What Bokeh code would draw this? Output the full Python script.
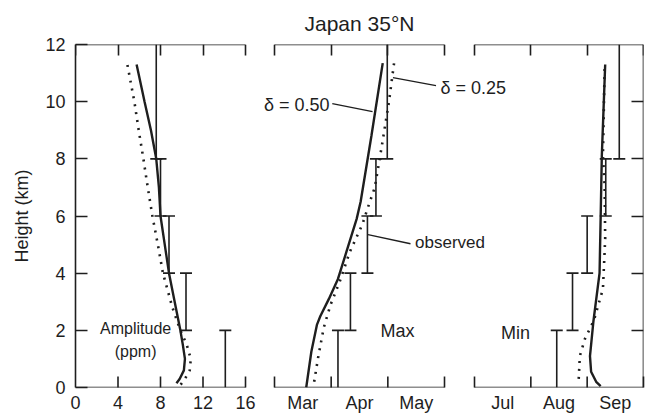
import math
from bokeh.plotting import figure
from bokeh.models import Range1d, LinearAxis, FixedTicker
from bokeh.core.properties import value
from bokeh.embed import file_html
from bokeh.resources import INLINE

# ---------------------------------------------------------------- data
# Observed layers (km): each observed value covers one layer
obs_bottom = [0, 2, 4, 6, 8]
obs_top = [2, 4, 6, 8, 12]

# Amplitude (ppm)
amp_z_050 = [0.15, 0.3, 0.6, 1.0, 1.5, 2.0, 2.8, 4.0, 5.0, 6.0, 7.0, 8.0, 9.0, 10.0, 11.3]
amp_050 = [9.5, 9.8, 10.2, 10.3, 10.1, 9.87, 9.44, 8.8, 8.4, 8.0, 7.85, 7.6, 7.1, 6.5, 5.75]
amp_z_025 = [0.1, 0.3, 0.6, 1.0, 1.5, 2.0, 2.8, 4.0, 4.9, 6.0, 7.0, 8.0, 9.0, 10.0, 11.3]
amp_025 = [9.9, 10.3, 10.75, 10.85, 10.47, 9.87, 9.12, 8.23, 7.8, 7.24, 6.8, 6.39, 5.95, 5.54, 4.88]
amp_obs = [14.1, 10.4, 8.8, 8.0, 7.6]

# Date of the maximum (month number, 3.0 = 1 March)
max_z_050 = [0.0, 1.25, 2.2, 2.5, 3.1, 3.8, 4.75, 5.9, 6.5, 8.8, 11.35]
max_050 = [3.56, 3.65, 3.75, 3.81, 3.96, 4.12, 4.27, 4.45, 4.52, 4.71, 4.91]
max_z_025 = [0.2, 1.05, 2.1, 2.9, 3.7, 4.75, 5.7, 6.25, 7.0, 8.4, 10.0, 11.35]
max_025 = [3.70, 3.77, 3.87, 3.99, 4.15, 4.33, 4.55, 4.64, 4.77, 4.89, 5.02, 5.11]
max_obs = [4.12, 4.34, 4.64, 4.79, 4.99]

# Date of the minimum (month number, 7.0 = 1 July)
min_z_050 = [0.05, 0.2, 0.55, 1.1, 2.3, 4.0, 6.0, 8.1, 11.3]
min_050 = [9.24, 9.16, 9.07, 9.05, 9.11, 9.22, 9.24, 9.26, 9.32]
min_z_025 = [0.3, 1.1, 1.7, 2.35, 3.45, 5.2, 7.05, 8.1, 11.2]
min_025 = [8.85, 8.87, 8.96, 9.12, 9.28, 9.32, 9.31, 9.28, 9.31]
min_obs = [8.46, 8.74, 9.0, 9.33, 9.57]

height_ticks = [0, 2, 4, 6, 8, 10, 12]
amp_ticks = [0, 4, 8, 12, 16]
max_months = ["Mar", "Apr", "May"]
min_months = ["Jul", "Aug", "Sep"]
max_first_month = 3
min_first_month = 7

# ---------------------------------------------------------------- layout
FONT = "Liberation Sans"
INK = "#1e1e1e"
FRAME_W = 568
FRAME_H = 344
TOP = 12
TICK = 11   # px, inward tick length

def panel_range(d0, d1, offset, width):
    """Range for the whole frame so that [d0, d1] lands on pixels offset..offset+width."""
    k = (d1 - d0) / width
    start = d0 - offset * k
    return Range1d(start, start + FRAME_W * k)

amp_range = panel_range(0, 16, 0, 170)
ranges = {
    "max": panel_range(max_first_month, max_first_month + 3, 199, 170),
    "min": panel_range(min_first_month, min_first_month + 3, 399, 169),
}

def to_amp_units(name, v):
    """Express a position of panel `name` in the units of the shared (amplitude) range."""
    r = ranges[name]
    return amp_range.start + (v - r.start) * (amp_range.end - amp_range.start) / (r.end - r.start)

p = figure(width=645, height=419,
           x_range=amp_range, y_range=Range1d(0, TOP),
           x_axis_type=None, y_axis_type=None,
           toolbar_location=None, output_backend="svg",
           min_border_left=75, min_border_right=2,
           min_border_top=43, min_border_bottom=32)
p.extra_x_ranges = ranges
p.outline_line_color = None
p.background_fill_color = "white"
p.border_fill_color = "white"

p.title.text = "Japan 35°N"
p.title.align = "center"
p.title.text_font = FONT
p.title.text_font_size = "21px"
p.title.text_font_style = "normal"
p.title.text_color = INK
p.title.standoff = 19

# ---------------------------------------------------------------- axes
def style(ax, size="18px"):
    ax.axis_line_color = INK
    ax.axis_line_width = 1.6
    ax.major_tick_line_color = INK
    ax.major_tick_line_width = 1.6
    ax.minor_tick_line_color = INK
    ax.minor_tick_line_width = 1.6
    ax.major_label_text_font = FONT
    ax.major_label_text_font_size = size
    ax.major_label_text_color = INK
    return ax

def blank(ticks):
    return {t: "" for t in ticks}

left = style(LinearAxis(ticker=FixedTicker(ticks=height_ticks),
                        major_tick_in=12, major_tick_out=0,
                        major_label_standoff=10,
                        axis_label="Height (km)", axis_label_standoff=10,
                        axis_label_text_font=FONT, axis_label_text_font_size="18px",
                        axis_label_text_font_style="normal", axis_label_text_color=INK))
p.add_layout(left, "left")

right_ticks = height_ticks[1:-1]
right = style(LinearAxis(x_range_name="min", fixed_location=min_first_month + 3,
                         ticker=FixedTicker(ticks=right_ticks),
                         major_tick_in=12, major_tick_out=0,
                         major_label_standoff=0,
                         major_label_overrides=blank(right_ticks)))
p.add_layout(right, "right")

# Shared bottom axis carrying the tick labels of all three panels
label_pos, label_txt = [], []
for t in amp_ticks:
    label_pos.append(t); label_txt.append(str(t))
for name, first, months in (("max", max_first_month, max_months),
                            ("min", min_first_month, min_months)):
    for i, m in enumerate(months):
        label_pos.append(to_amp_units(name, first + i + 0.5)); label_txt.append(m)

bottom = style(LinearAxis(ticker=FixedTicker(ticks=label_pos),
                          major_tick_in=0, major_tick_out=0,
                          major_label_standoff=5,
                          major_label_overrides=dict(zip(label_pos, label_txt))))
bottom.axis_line_color = None
p.add_layout(bottom, "below")

# Frame lines of each panel at 0 km and at the top; inward ticks
panel_edges = {
    "default": amp_ticks,
    "max": [max_first_month + i for i in range(len(max_months) + 1)],
    "min": [min_first_month + i for i in range(len(min_months) + 1)],
}
tick_km = TICK * TOP / FRAME_H
for name, edges in panel_edges.items():
    base = LinearAxis(x_range_name=name, fixed_location=0, bounds=(edges[0], edges[-1]),
                      ticker=FixedTicker(ticks=[]), major_tick_in=0, major_tick_out=0,
                      major_label_standoff=0)
    p.add_layout(style(base), "above")
    top = LinearAxis(x_range_name=name, fixed_location=TOP, bounds=(edges[0], edges[-1]),
                     ticker=FixedTicker(ticks=edges),
                     major_tick_in=TICK, major_tick_out=0, major_label_standoff=0,
                     major_label_overrides=blank(edges))
    p.add_layout(style(top), "above")
    # ticks standing up from the ground line: upright dashes centred half a tick above it
    inner = edges[1:] if name == "default" else edges
    p.scatter(x=inner, y=[tick_km / 2] * len(inner), marker="dash", size=TICK,
              angle=math.pi / 2, x_range_name=name,
              line_color=INK, line_width=1.6, level="overlay")

# ---------------------------------------------------------------- profiles
panels = (
    ("default", amp_z_050, amp_050, amp_z_025, amp_025, amp_obs),
    ("max", max_z_050, max_050, max_z_025, max_025, max_obs),
    ("min", min_z_050, min_050, min_z_025, min_025, min_obs),
)
for name, z50, v50, z25, v25, obs in panels:
    p.line(v50, z50, x_range_name=name, line_color=INK, line_width=2.4)
    p.line(v25, z25, x_range_name=name, line_color=INK, line_width=2.6,
           line_dash="2 6")
    p.segment(x0=obs, y0=obs_bottom, x1=obs, y1=obs_top, x_range_name=name,
              line_color=INK, line_width=1.6)
    cap_x, cap_y = [], []
    for x, b, t in zip(obs, obs_bottom, obs_top):
        if b > 0:
            cap_x.append(x); cap_y.append(b)
        if t < TOP:
            cap_x.append(x); cap_y.append(t)
    p.scatter(cap_x, cap_y, x_range_name=name, marker="dash", size=12,
              line_color=INK, line_width=1.6)

# ---------------------------------------------------------------- labels
def label(x, y, txt, rng="default", align="center", size="18px"):
    p.text(x=[x], y=[y], text=[txt], x_range_name=rng,
           text_align=align, text_baseline="middle",
           text_font=value(FONT), text_font_size=size, text_color=INK)

label(5.66, 2.06, "Amplitude", size="16px")
label(5.66, 1.26, "(ppm)", size="16px")
label(5.17, 1.99, "Max", "max")
label(7.73, 1.89, "Min", "min")

label(3.97, 9.9, "δ = 0.50", "max", align="right")
p.segment(x0=[4.02], y0=[9.93], x1=[4.73], y1=[9.65], x_range_name="max",
          line_color=INK, line_width=1.4)
label(5.93, 10.49, "δ = 0.25", "max", align="left")
p.segment(x0=[5.85], y0=[10.56], x1=[5.09], y1=[10.84], x_range_name="max",
          line_color=INK, line_width=1.4)
label(5.48, 5.07, "observed", "max", align="left", size="17px")
p.segment(x0=[5.40], y0=[5.03], x1=[4.65], y1=[5.35], x_range_name="max",
          line_color=INK, line_width=1.4)

open("out.html", "w").write(file_html(p, INLINE))
